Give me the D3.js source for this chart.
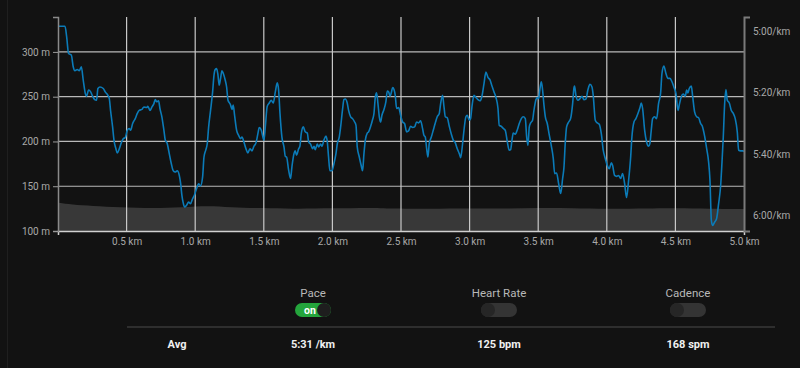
<!DOCTYPE html>
<html>
<head>
<meta charset="utf-8">
<script src="https://cdn.jsdelivr.net/npm/d3@7"></script>
<style>
  html, body { margin: 0; padding: 0; background: #121212; }
  svg { display: block; font-family: Roboto, "Noto Sans", sans-serif; }
</style>
</head>
<body>
<div id="contenedor"></div>
<script>
const ANCHO = 800;
const ALTO = 368;
const COLOR_FONDO = "#121212";
const COLOR_PASO = "#0b7bb8";
const COLOR_ELEV = "#383838";

// distancia (km), ritmo (segundos por km)
const ritmo = [
  [0,298.4],[0.051,298.4],[0.063,301.8],[0.077,307.3],[0.097,307.8],[0.111,311.6],[0.123,312.9],[0.140,312.5],
  [0.155,312.9],[0.170,311.6],[0.184,316.0],[0.199,320.3],[0.208,321.2],[0.223,319.2],[0.238,319.8],[0.252,321.2],
  [0.267,322.3],[0.281,322.5],[0.291,318.7],[0.306,318.2],[0.330,318.7],[0.344,319.8],[0.364,320.9],[0.374,322.0],
  [0.383,325.8],[0.398,331.2],[0.408,335.5],[0.422,338.3],[0.432,339.7],[0.447,338.3],[0.461,336.4],[0.476,335.0],
  [0.490,334.7],[0.505,332.3],[0.519,331.7],[0.529,332.3],[0.544,330.1],[0.563,328.5],[0.578,326.8],[0.592,325.8],
  [0.612,325.5],[0.626,324.7],[0.646,324.9],[0.655,324.5],[0.670,325.8],[0.685,324.7],[0.699,323.6],[0.709,322.3],
  [0.719,323.0],[0.733,322.7],[0.743,325.2],[0.757,327.9],[0.772,332.3],[0.782,335.5],[0.796,336.6],[0.811,339.9],
  [0.826,343.2],[0.840,345.5],[0.855,345.9],[0.869,345.5],[0.884,347.0],[0.894,349.7],[0.903,353.5],[0.913,356.0],
  [0.923,357.3],[0.937,356.7],[0.952,355.7],[0.966,356.2],[0.981,354.6],[0.996,353.2],[1.010,351.3],[1.025,349.7],
  [1.039,350.4],[1.054,347.5],[1.064,341.0],[1.078,338.6],[1.088,336.6],[1.098,331.2],[1.112,325.8],[1.127,319.8],
  [1.137,314.3],[1.146,312.5],[1.156,312.2],[1.166,314.3],[1.175,317.6],[1.185,315.4],[1.195,312.9],[1.205,313.8],
  [1.219,316.0],[1.229,318.2],[1.239,322.5],[1.253,323.6],[1.258,324.1],[1.268,325.5],[1.277,324.1],[1.287,327.4],
  [1.302,332.3],[1.316,333.9],[1.331,335.0],[1.341,334.5],[1.355,336.1],[1.370,338.3],[1.384,339.7],[1.399,338.3],
  [1.414,339.0],[1.428,337.5],[1.443,336.4],[1.457,333.4],[1.467,331.4],[1.482,332.3],[1.496,335.0],[1.501,335.5],
  [1.511,331.2],[1.525,324.5],[1.540,323.4],[1.554,322.5],[1.569,323.4],[1.584,319.8],[1.598,316.8],[1.608,319.2],
  [1.618,326.8],[1.632,334.5],[1.647,337.7],[1.657,340.8],[1.666,341.0],[1.681,345.3],[1.695,348.0],[1.705,344.2],
  [1.720,339.9],[1.729,339.0],[1.739,340.4],[1.754,338.3],[1.763,337.5],[1.773,333.4],[1.788,331.2],[1.802,332.8],
  [1.817,333.2],[1.827,336.1],[1.841,336.8],[1.856,338.3],[1.866,337.5],[1.875,338.6],[1.890,336.8],[1.900,337.7],
  [1.914,336.8],[1.924,337.5],[1.938,335.5],[1.953,334.2],[1.963,336.1],[1.972,341.0],[1.982,345.5],[1.997,345.5],
  [2.011,343.2],[2.026,339.9],[2.036,336.6],[2.050,334.5],[2.060,331.2],[2.074,325.5],[2.084,322.3],[2.094,322.1],
  [2.108,323.4],[2.118,325.8],[2.133,327.9],[2.147,328.5],[2.162,329.6],[2.172,330.7],[2.181,337.7],[2.196,341.0],
  [2.211,344.0],[2.220,345.5],[2.230,339.9],[2.240,335.5],[2.254,333.2],[2.264,332.8],[2.279,331.0],[2.293,328.8],
  [2.303,326.8],[2.313,321.4],[2.322,320.1],[2.332,323.6],[2.342,327.9],[2.351,329.6],[2.361,327.4],[2.376,325.5],
  [2.390,323.0],[2.400,319.5],[2.410,319.8],[2.420,321.2],[2.429,320.1],[2.439,318.4],[2.449,319.0],[2.458,320.9],
  [2.468,325.2],[2.483,324.9],[2.497,327.4],[2.512,329.6],[2.526,330.1],[2.541,332.8],[2.555,332.5],[2.570,331.0],
  [2.585,331.4],[2.599,331.2],[2.614,329.6],[2.628,329.9],[2.643,329.2],[2.657,331.7],[2.667,333.9],[2.677,334.5],
  [2.687,338.3],[2.696,341.0],[2.706,336.6],[2.721,334.5],[2.735,332.3],[2.750,329.9],[2.764,327.9],[2.779,326.8],
  [2.789,323.6],[2.803,320.9],[2.813,324.5],[2.823,327.9],[2.837,328.2],[2.852,331.0],[2.866,333.4],[2.881,335.5],
  [2.896,336.4],[2.910,338.3],[2.925,339.9],[2.935,341.2],[2.949,336.6],[2.959,332.3],[2.973,327.9],[2.983,327.4],
  [2.998,329.0],[3.007,328.5],[3.017,324.7],[3.032,320.9],[3.046,321.6],[3.061,322.3],[3.075,322.7],[3.090,321.2],
  [3.105,317.1],[3.119,313.3],[3.134,315.1],[3.148,315.8],[3.163,317.9],[3.178,319.8],[3.192,321.6],[3.207,325.2],
  [3.216,330.7],[3.231,331.0],[3.246,331.7],[3.260,332.3],[3.275,336.1],[3.289,338.8],[3.299,338.6],[3.309,335.5],
  [3.318,333.2],[3.333,333.6],[3.348,332.1],[3.362,330.1],[3.377,328.5],[3.391,327.9],[3.406,328.5],[3.416,334.5],
  [3.425,337.2],[3.435,331.2],[3.445,329.9],[3.459,329.0],[3.469,325.8],[3.484,322.3],[3.493,321.6],[3.503,322.0],
  [3.513,318.7],[3.523,316.5],[3.532,319.2],[3.542,324.1],[3.552,327.9],[3.566,330.1],[3.581,333.9],[3.595,337.2],
  [3.610,341.5],[3.620,346.4],[3.634,346.2],[3.649,349.7],[3.664,352.9],[3.678,348.0],[3.688,344.2],[3.697,336.6],
  [3.707,331.2],[3.722,329.6],[3.736,328.5],[3.751,323.6],[3.761,318.4],[3.765,317.9],[3.775,320.9],[3.790,322.5],
  [3.804,322.0],[3.819,321.2],[3.833,322.3],[3.848,322.1],[3.862,319.2],[3.877,317.3],[3.892,318.2],[3.901,320.9],
  [3.916,329.0],[3.931,329.9],[3.945,330.3],[3.960,333.4],[3.974,338.8],[3.989,341.5],[4.003,343.7],[4.018,344.8],
  [4.033,342.9],[4.042,343.7],[4.057,347.0],[4.071,347.3],[4.086,347.0],[4.101,348.0],[4.115,346.4],[4.130,349.7],
  [4.144,354.2],[4.159,348.6],[4.174,341.0],[4.183,334.5],[4.198,329.6],[4.212,328.5],[4.227,326.8],[4.242,324.9],
  [4.251,323.4],[4.261,325.2],[4.276,332.3],[4.290,336.1],[4.305,337.5],[4.314,336.6],[4.324,332.3],[4.334,328.5],
  [4.348,327.9],[4.363,328.5],[4.378,323.4],[4.392,320.3],[4.402,313.8],[4.416,311.4],[4.431,313.8],[4.446,315.4],
  [4.460,315.4],[4.475,316.5],[4.489,318.2],[4.504,320.3],[4.519,325.8],[4.528,324.1],[4.543,321.4],[4.557,320.5],
  [4.572,321.2],[4.582,319.2],[4.591,320.1],[4.601,318.7],[4.616,317.9],[4.625,320.9],[4.640,326.3],[4.655,327.9],
  [4.669,328.2],[4.684,330.1],[4.698,331.2],[4.713,334.2],[4.728,338.3],[4.742,342.6],[4.752,348.6],[4.762,361.6],
  [4.771,363.3],[4.786,362.2],[4.800,361.1],[4.815,356.2],[4.830,350.2],[4.839,343.2],[4.849,334.5],[4.859,323.6],
  [4.868,319.0],[4.878,322.5],[4.893,323.4],[4.907,325.8],[4.922,326.8],[4.936,328.5],[4.951,332.8],[4.961,338.8],
  [4.975,339.0],[4.990,339.0],[5.000,339.1]
];

// distancia (km), elevación (m)
const elevacion = [
  [0,131.5],[0.1,129.5],[0.25,128],[0.45,126.5],[0.7,125.4],[0.9,126.5],[1.1,128.3],[1.25,126.5],
  [1.5,125.5],[1.7,124.8],[2.0,125.2],[2.3,126.2],[2.45,124.8],[2.7,124.8],[3.0,125.4],[3.25,124.8],
  [3.5,126],[3.75,125.6],[4.0,124.6],[4.3,125.2],[4.5,125.6],[4.75,124.8],[5.0,124.5]
];

const ticksKm = [0.5, 1.0, 1.5, 2.0, 2.5, 3.0, 3.5, 4.0, 4.5, 5.0];
const ticksMetros = [100, 150, 200, 250, 300];
const ticksRitmo = [300, 320, 340, 360];
const interruptores = [
  {nombre: "Pace", activo: true, promedio: "5:31 /km"},
  {nombre: "Heart Rate", activo: false, promedio: "125 bpm"},
  {nombre: "Cadence", activo: false, promedio: "168 spm"}
];

const margen = {izq: 58, der: 744, arriba: 17, abajo: 231};

const x = d3.scaleLinear().domain([0, 5]).range([margen.izq, margen.der]);
const yElev = d3.scaleLinear().domain([100, 339]).range([margen.abajo, margen.arriba]);
const yRitmo = d3.scaleLinear().domain([295.4, 365.1]).range([margen.arriba, margen.abajo]);

const formatoRitmo = (s) => {
  const m = Math.floor(s / 60);
  const seg = Math.round(s - m * 60);
  return m + ":" + String(seg).padStart(2, "0") + "/km";
};

const $svg = d3.select("#contenedor")
  .append("svg")
  .attr("width", ANCHO)
  .attr("height", ALTO);

$svg.append("rect").attr("width", ANCHO).attr("height", ALTO).attr("fill", COLOR_FONDO);
$svg.append("line")
  .attr("x1", 7.5).attr("x2", 7.5).attr("y1", 0).attr("y2", ALTO)
  .attr("stroke", "#1f1f1f").attr("stroke-width", 1);

// área de elevación
const area = d3.area()
  .x(d => x(d[0]))
  .y0(yElev(100))
  .y1(d => yElev(d[1]))
  .curve(d3.curveBasis);
$svg.append("path").datum(elevacion).attr("d", area).attr("fill", COLOR_ELEV);

// rejilla
$svg.append("g").selectAll("line")
  .data(ticksMetros.slice(1))
  .join("line")
  .attr("x1", margen.izq).attr("x2", margen.der)
  .attr("y1", d => yElev(d)).attr("y2", d => yElev(d))
  .attr("stroke", "#b8b8b8").attr("stroke-width", 1.2);

$svg.append("g").selectAll("line")
  .data(ticksKm.slice(0, -1))
  .join("line")
  .attr("x1", d => x(d)).attr("x2", d => x(d))
  .attr("y1", margen.arriba).attr("y2", margen.abajo)
  .attr("stroke", "#c8c8c8").attr("stroke-width", 1.2);

// línea de ritmo
const linea = d3.line()
  .x(d => x(d[0]))
  .y(d => yRitmo(d[1]))
  .curve(d3.curveMonotoneX);
$svg.append("path").datum(ritmo)
  .attr("d", linea)
  .attr("fill", "none")
  .attr("stroke", COLOR_PASO)
  .attr("stroke-width", 1.6);

// ejes
const ejeX = $svg.append("g")
  .attr("transform", `translate(0,${margen.abajo})`)
  .call(d3.axisBottom(x).tickValues(ticksKm).tickSizeInner(0).tickSizeOuter(4).tickPadding(7)
    .tickFormat(d => d.toFixed(1) + " km"));
ejeX.select(".domain").attr("stroke", "#d0d0d0").attr("stroke-width", 1.5);

const ejeIzq = $svg.append("g")
  .attr("transform", `translate(${margen.izq},0)`)
  .call(d3.axisLeft(yElev).tickValues(ticksMetros).tickSize(5).tickPadding(3)
    .tickFormat(d => d + " m"));
ejeIzq.select(".domain").attr("stroke", "#8a8a8a").attr("stroke-width", 1.5);
ejeIzq.selectAll(".tick line").attr("stroke", "#9a9a9a");

const ejeDer = $svg.append("g")
  .attr("transform", `translate(${margen.der},0)`)
  .call(d3.axisRight(yRitmo).tickValues(ticksRitmo).tickSizeInner(0).tickSizeOuter(6).tickPadding(9)
    .tickFormat(formatoRitmo));
ejeDer.select(".domain").attr("stroke", "#7a7a7a").attr("stroke-width", 2);

$svg.selectAll(".tick text")
  .attr("fill", "#a8a8a8")
  .attr("font-size", 10)
  .attr("font-family", "Roboto, sans-serif");

// interruptores
const centros = [313, 499, 688];
const grupo = $svg.append("g").selectAll("g")
  .data(interruptores)
  .join("g")
  .attr("transform", (d, i) => `translate(${centros[i]},0)`);

grupo.append("text")
  .attr("y", 297)
  .attr("text-anchor", "middle")
  .attr("fill", "#b8b8b8")
  .attr("font-size", 11.5)
  .text(d => d.nombre);

grupo.append("rect")
  .attr("x", -18).attr("y", 303).attr("width", 36).attr("height", 14).attr("rx", 7)
  .attr("fill", d => d.activo ? "#24a53c" : "#343434");

grupo.append("circle")
  .attr("cx", d => d.activo ? 11 : -11).attr("cy", 310).attr("r", 7)
  .attr("fill", d => d.activo ? "#1e1e1e" : "#262626");

grupo.filter(d => d.activo).append("text")
  .attr("x", -9).attr("y", 314)
  .attr("fill", "#ffffff")
  .attr("font-size", 10.5)
  .attr("font-weight", "bold")
  .text("on");

$svg.append("line")
  .attr("x1", 127).attr("x2", 775).attr("y1", 327).attr("y2", 327)
  .attr("stroke", "#2e2e2e").attr("stroke-width", 2);

$svg.append("text")
  .attr("x", 177).attr("y", 348)
  .attr("text-anchor", "middle")
  .attr("fill", "#f0f0f0")
  .attr("font-size", 11)
  .attr("font-weight", "bold")
  .text("Avg");

grupo.append("text")
  .attr("y", 348)
  .attr("text-anchor", "middle")
  .attr("fill", "#f0f0f0")
  .attr("font-size", 11)
  .attr("font-weight", "bold")
  .text(d => d.promedio);
</script>
</body>
</html>
